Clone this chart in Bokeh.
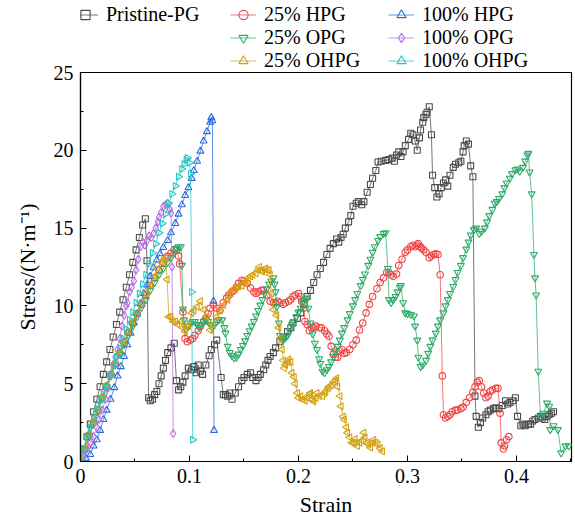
import math
from bokeh.plotting import figure
from bokeh.layouts import column
from bokeh.models import Legend, LegendItem, FixedTicker, Range1d
from bokeh.embed import file_html
from bokeh.resources import INLINE

# ---------------- data ----------------
x_ticks = [0, 0.1, 0.2, 0.3, 0.4]
x_tick_labels = ["0", "0.1", "0.2", "0.3", "0.4"]
x_minor = [0.05, 0.15, 0.25, 0.35, 0.45]
y_ticks = [0, 5, 10, 15, 20, 25]
y_tick_labels = ["0", "5", "10", "15", "20", "25"]
y_minor = [2.5, 7.5, 12.5, 17.5, 22.5]

series_names = ["Pristine-PG", "25% HPG", "100% HPG", "25% OPG", "100% OPG", "25% OHPG", "100% OHPG"]

pristine_strain = [0, 0.003, 0.006, 0.009, 0.012, 0.015, 0.018, 0.021, 0.024, 0.027, 0.030, 0.033, 0.036, 0.039, 0.042, 0.045, 0.048, 0.051, 0.054, 0.057, 0.0595,
                   0.061, 0.0625, 0.064, 0.066, 0.068, 0.070, 0.072, 0.074, 0.076, 0.078, 0.080, 0.083, 0.086, 0.088, 0.090, 0.092, 0.094, 0.096, 0.099, 0.102,
                   0.104, 0.106, 0.108, 0.110, 0.112, 0.115, 0.118, 0.120, 0.123, 0.125, 0.129, 0.131, 0.133, 0.135, 0.137, 0.139, 0.142, 0.145, 0.148, 0.150,
                   0.153, 0.156, 0.158, 0.161, 0.163, 0.165, 0.168, 0.170, 0.172, 0.174, 0.177, 0.179, 0.183, 0.186, 0.190, 0.193, 0.195, 0.199, 0.202, 0.205,
                   0.208, 0.211, 0.214, 0.217, 0.220, 0.223, 0.226, 0.229, 0.232, 0.235, 0.237, 0.239, 0.241, 0.243, 0.246, 0.248, 0.250, 0.253, 0.255, 0.258,
                   0.260, 0.263, 0.266, 0.268, 0.271, 0.273, 0.276, 0.280, 0.283, 0.286, 0.288, 0.290, 0.292, 0.294, 0.296, 0.298, 0.301, 0.303, 0.305, 0.307,
                   0.309, 0.311, 0.312, 0.314, 0.315, 0.317, 0.318, 0.320, 0.322, 0.323, 0.325, 0.327, 0.329, 0.331, 0.333, 0.335, 0.337, 0.339, 0.342, 0.344,
                   0.347, 0.349, 0.351, 0.352, 0.354, 0.356, 0.358, 0.360, 0.362, 0.363, 0.365, 0.367, 0.369, 0.372, 0.374, 0.376, 0.379, 0.381, 0.384, 0.387,
                   0.390, 0.392, 0.394, 0.397, 0.399, 0.401, 0.404, 0.406, 0.408, 0.411, 0.413, 0.415, 0.417, 0.420, 0.422, 0.424, 0.426, 0.428, 0.430, 0.432, 0.434]
pristine_stress = [0, 0.8, 1.6, 2.4, 3.2, 4.0, 4.8, 5.6, 6.4, 7.2, 8.0, 8.8, 9.6, 10.4, 11.2, 12.0, 12.8, 13.6, 14.4, 15.2, 15.6,
                   12.9, 4.1, 3.9, 4.0, 4.3, 4.5, 5.0, 5.5, 6.0, 6.5, 7.0, 7.3, 7.6, 5.2, 4.6, 4.8, 5.1, 5.5, 6.0, 5.9,
                   6.1, 5.7, 6.2, 5.8, 5.6, 6.2, 6.8, 7.2, 7.5, 7.8, 5.4, 4.3, 4.3, 4.2, 4.4, 4.0, 4.4, 4.8, 5.2, 5.4,
                   5.6, 5.7, 5.4, 5.2, 5.4, 5.6, 5.9, 6.2, 6.5, 6.75, 7.0, 7.3, 7.7, 8.0, 8.35, 8.6, 8.9, 9.2, 9.55, 10.1,
                   10.6, 11.0, 11.5, 12.0, 12.4, 12.8, 13.3, 13.7, 14.0, 14.3, 14.1, 14.4, 14.6, 15.0, 15.4, 15.8, 16.4, 16.6, 16.7, 16.5,
                   16.7, 17.3, 17.8, 18.2, 18.7, 19.25, 19.3, 19.35, 19.4, 19.5, 19.3, 19.7, 19.9, 19.6, 19.9, 20.3, 20.7, 21.1, 21.0, 20.6,
                   20.0, 20.8, 21.3, 21.8, 22.1, 22.3, 22.45, 22.8, 21.0, 18.4, 17.6, 17.0, 17.2, 17.6, 17.9, 18.1, 17.7, 18.4, 18.9, 19.1,
                   19.2, 19.3, 19.9, 20.3, 20.6, 20.4, 19.0, 18.3, 4.2, 2.9, 2.2, 2.5, 2.8, 3.0, 3.2, 3.3, 3.4, 3.45, 3.4, 3.6,
                   3.9, 3.7, 3.8, 3.9, 4.1, 2.9, 2.3, 2.4, 2.3, 2.4, 2.4, 2.6, 2.7, 2.8, 2.9, 2.8, 2.7, 2.9, 3.0, 3.1, 3.2]

hpg25_strain = [0, 0.004, 0.008, 0.012, 0.016, 0.020, 0.024, 0.028, 0.032, 0.036, 0.040, 0.044, 0.048, 0.052, 0.056, 0.060, 0.064, 0.068, 0.072, 0.076,
                0.080, 0.083, 0.086, 0.088, 0.090, 0.091, 0.094, 0.096, 0.098, 0.101, 0.103, 0.105, 0.108, 0.110, 0.113, 0.115, 0.117, 0.119, 0.122, 0.125,
                0.128, 0.131, 0.134, 0.136, 0.139, 0.141, 0.143, 0.145, 0.148, 0.150, 0.153, 0.156, 0.159, 0.161, 0.163, 0.166, 0.168, 0.171, 0.174, 0.177,
                0.179, 0.181, 0.183, 0.186, 0.188, 0.191, 0.193, 0.195, 0.197, 0.200, 0.202, 0.203, 0.205, 0.206, 0.208, 0.210, 0.212, 0.214, 0.216, 0.219,
                0.221, 0.224, 0.226, 0.228, 0.230, 0.232, 0.234, 0.236, 0.238, 0.240, 0.242, 0.244, 0.247, 0.250, 0.253, 0.256, 0.259, 0.262, 0.265, 0.268,
                0.272, 0.275, 0.278, 0.281, 0.283, 0.285, 0.287, 0.290, 0.292, 0.295, 0.298, 0.300, 0.303, 0.305, 0.307, 0.309, 0.310, 0.312, 0.313, 0.315,
                0.317, 0.320, 0.322, 0.324, 0.326, 0.328, 0.330, 0.332, 0.333, 0.335, 0.337, 0.339, 0.341, 0.344, 0.346, 0.349, 0.351, 0.354, 0.357, 0.360,
                0.362, 0.364, 0.366, 0.368, 0.370, 0.372, 0.374, 0.376, 0.378, 0.381, 0.383, 0.385, 0.386, 0.388, 0.389, 0.391, 0.393]
hpg25_stress = [0, 0.8, 1.7, 2.5, 3.3, 4.1, 4.8, 5.6, 6.3, 7.0, 7.7, 8.3, 8.9, 9.5, 10.1, 10.7, 11.3, 11.8, 12.3, 12.8,
                13.2, 13.4, 13.6, 13.6, 13.2, 12.7, 9.6, 7.9, 7.7, 7.8, 7.9, 8.1, 8.4, 8.7, 9.0, 9.2, 9.5, 9.85, 10.05, 9.85,
                9.7, 10.2, 10.5, 10.7, 10.9, 11.0, 11.2, 11.45, 11.65, 11.6, 11.45, 11.15, 10.9, 10.8, 10.9, 11.0, 11.0, 10.7, 10.3, 10.2,
                10.2, 10.3, 10.2, 10.1, 10.2, 10.3, 10.4, 10.6, 10.7, 10.8, 10.6, 10.3, 9.85, 9.0, 8.8, 8.4, 8.6, 8.6, 8.7, 8.6,
                8.6, 8.4, 8.2, 8.05, 7.4, 6.9, 6.7, 6.7, 7.1, 7.2, 6.95, 7.0, 7.2, 7.5, 7.8, 8.45, 8.9, 9.55, 10.1, 10.6,
                11.1, 11.5, 11.8, 12.15, 12.15, 12.0, 11.9, 12.05, 12.6, 13.0, 13.45, 13.6, 13.8, 13.9, 13.8, 13.9, 14.0, 13.8, 13.7, 13.6,
                13.45, 13.1, 13.2, 13.3, 13.35, 13.3, 12.0, 5.5, 3.0, 2.8, 2.9, 3.0, 3.2, 3.3, 3.3, 3.4, 3.5, 3.8, 4.1, 4.45,
                4.8, 5.1, 5.2, 4.8, 4.4, 4.1, 4.2, 4.5, 4.6, 4.7, 4.7, 3.1, 1.2, 0.8, 1.0, 1.4, 1.6]

hpg100_strain = [0, 0.005, 0.009, 0.012, 0.015, 0.018, 0.021, 0.024, 0.0275, 0.031, 0.034, 0.037, 0.040, 0.043, 0.046, 0.049, 0.052, 0.055, 0.058, 0.061,
                 0.064, 0.067, 0.070, 0.073, 0.076, 0.080, 0.083, 0.087, 0.090, 0.093, 0.096, 0.099, 0.102, 0.104, 0.107, 0.110, 0.113, 0.116, 0.119, 0.120,
                 0.121, 0.122, 0.1225]
hpg100_stress = [0, 0.2, 0.45, 1.0, 1.4, 2.0, 2.7, 3.3, 4.0, 4.75, 5.5, 6.1, 6.75, 7.5, 8.25, 8.9, 9.5, 10.15, 10.8, 11.35,
                 11.9, 12.45, 12.95, 13.35, 13.75, 14.2, 14.7, 15.3, 15.9, 16.5, 17.1, 17.6, 18.2, 18.7, 19.3, 19.95, 20.6, 21.2, 21.8, 22.1,
                 21.9, 10.3, 2.0]

opg25_strain = [0, 0.004, 0.008, 0.012, 0.016, 0.020, 0.024, 0.028, 0.032, 0.036, 0.040, 0.044, 0.048, 0.052, 0.056, 0.060, 0.064, 0.068, 0.072, 0.076,
                0.080, 0.083, 0.086, 0.088, 0.090, 0.092, 0.093, 0.094, 0.095, 0.097, 0.099, 0.101, 0.103, 0.105, 0.107, 0.109, 0.111, 0.113, 0.115, 0.117,
                0.119, 0.121, 0.123, 0.125, 0.127, 0.130, 0.132, 0.133, 0.135, 0.137, 0.139, 0.141, 0.143, 0.145, 0.147, 0.149, 0.151, 0.153, 0.155, 0.157,
                0.159, 0.161, 0.163, 0.165, 0.167, 0.169, 0.171, 0.173, 0.175, 0.177, 0.178, 0.179, 0.180, 0.182, 0.183, 0.185, 0.186, 0.188, 0.190, 0.192,
                0.194, 0.196, 0.198, 0.200, 0.202, 0.204, 0.206, 0.208, 0.209, 0.211, 0.213, 0.215, 0.217, 0.219, 0.220, 0.222, 0.224, 0.226, 0.228, 0.230,
                0.232, 0.234, 0.236, 0.238, 0.240, 0.242, 0.245, 0.247, 0.250, 0.252, 0.254, 0.257, 0.259, 0.261, 0.264, 0.266, 0.268, 0.270, 0.273, 0.275,
                0.278, 0.280, 0.282, 0.283, 0.285, 0.287, 0.289, 0.291, 0.293, 0.294, 0.296, 0.298, 0.300, 0.303, 0.306, 0.307, 0.309, 0.310, 0.312, 0.314,
                0.317, 0.319, 0.321, 0.323, 0.326, 0.328, 0.330, 0.333, 0.335, 0.337, 0.339, 0.342, 0.344, 0.346, 0.349, 0.351, 0.354, 0.356, 0.358, 0.361,
                0.363, 0.366, 0.368, 0.371, 0.373, 0.375, 0.378, 0.380, 0.382, 0.384, 0.387, 0.389, 0.391, 0.394, 0.396, 0.399, 0.401, 0.403, 0.406, 0.408,
                0.410, 0.411, 0.412, 0.414, 0.416, 0.417, 0.418, 0.420, 0.422, 0.425, 0.428, 0.430, 0.431, 0.434, 0.438, 0.441, 0.445, 0.448]
opg25_stress = [0, 0.75, 1.6, 2.4, 3.2, 4.0, 4.8, 5.5, 6.2, 6.9, 7.5, 8.1, 8.7, 9.3, 9.9, 10.4, 11.0, 11.5, 12.0, 12.4,
                12.8, 13.1, 13.4, 13.7, 13.8, 13.8, 12.6, 9.8, 9.1, 8.5, 8.7, 8.9, 9.0, 9.0, 8.8, 8.6, 8.8, 9.0, 9.1, 9.0,
                8.8, 8.6, 8.8, 9.0, 9.1, 9.1, 8.6, 8.25, 7.4, 7.0, 6.8, 6.65, 6.7, 6.9, 7.2, 7.45, 7.75, 8.1, 8.4, 8.7,
                9.0, 9.35, 9.7, 10.05, 10.4, 10.8, 11.1, 11.4, 11.6, 11.8, 11.4, 10.9, 9.95, 8.9, 8.1, 7.9, 7.8, 7.95, 8.1, 8.4,
                8.8, 9.0, 9.3, 9.6, 9.85, 10.2, 10.45, 10.5, 9.85, 8.9, 8.2, 7.6, 7.2, 6.6, 6.3, 5.8, 5.7, 5.9, 6.1, 6.4,
                6.75, 7.1, 7.4, 7.8, 8.25, 8.6, 9.1, 9.5, 10.0, 10.4, 10.8, 11.3, 11.7, 12.05, 12.6, 13.0, 13.45, 13.8, 14.2, 14.45,
                14.65, 14.7, 12.4, 10.4, 10.2, 10.4, 10.6, 10.9, 11.2, 11.3, 10.2, 9.55, 9.5, 9.45, 9.35, 8.7, 7.8, 6.7, 6.1, 6.2,
                6.5, 6.95, 7.4, 7.8, 8.25, 8.7, 9.1, 9.55, 10.0, 10.4, 10.8, 11.25, 11.7, 12.15, 12.6, 13.1, 13.65, 14.1, 14.55, 14.9,
                15.0, 14.65, 14.8, 15.0, 15.4, 15.8, 16.2, 16.6, 16.7, 16.9, 17.2, 17.6, 17.9, 18.2, 18.5, 18.75, 18.8, 18.65, 18.9, 19.3,
                19.7, 19.8, 18.6, 17.2, 13.3, 11.8, 10.7, 5.8, 2.9, 3.1, 3.75, 3.55, 2.05, 2.3, 2.05, 0.55, 1.0, 1.0]

opg100_strain = [0, 0.003, 0.006, 0.009, 0.012, 0.015, 0.017, 0.020, 0.023, 0.025, 0.0275, 0.030, 0.032, 0.034, 0.036, 0.038, 0.040, 0.042, 0.043, 0.045,
                 0.047, 0.049, 0.051, 0.053, 0.055, 0.057, 0.059, 0.061, 0.063, 0.065, 0.067, 0.069, 0.071, 0.072, 0.074, 0.076, 0.078, 0.080, 0.082, 0.083,
                 0.084, 0.085]
opg100_stress = [0, 0.4, 0.8, 1.2, 1.6, 2.2, 2.7, 3.3, 4.0, 4.7, 5.5, 6.2, 6.7, 7.2, 7.9, 8.7, 9.4, 10.0, 10.2, 10.9,
                 11.2, 11.6, 12.3, 13.0, 13.8, 14.1, 13.9, 14.2, 14.5, 14.4, 14.65, 15.0, 15.4, 15.7, 16.0, 16.4, 16.5, 16.6, 16.2, 15.95,
                 12.5, 1.8]

ohpg25_strain = [0, 0.004, 0.008, 0.012, 0.016, 0.020, 0.024, 0.028, 0.032, 0.036, 0.040, 0.044, 0.048, 0.052, 0.056, 0.060, 0.064, 0.068, 0.071, 0.074,
                 0.076, 0.078, 0.0795, 0.081, 0.083, 0.085, 0.087, 0.089, 0.092, 0.094, 0.096, 0.099, 0.102, 0.104, 0.107, 0.110, 0.113, 0.116, 0.119, 0.122,
                 0.125, 0.128, 0.131, 0.135, 0.138, 0.141, 0.143, 0.145, 0.148, 0.150, 0.152, 0.154, 0.156, 0.158, 0.161, 0.163, 0.164, 0.166, 0.167, 0.169,
                 0.170, 0.172, 0.173, 0.174, 0.175, 0.177, 0.180, 0.182, 0.183, 0.185, 0.186, 0.187, 0.188, 0.190, 0.191, 0.193, 0.194, 0.196, 0.197, 0.199,
                 0.200, 0.202, 0.204, 0.206, 0.208, 0.210, 0.211, 0.213, 0.214, 0.216, 0.217, 0.219, 0.222, 0.224, 0.225, 0.227, 0.228, 0.230, 0.232, 0.234,
                 0.235, 0.236, 0.238, 0.239, 0.241, 0.242, 0.244, 0.245, 0.247, 0.249, 0.251, 0.252, 0.254, 0.256, 0.258, 0.260, 0.261, 0.263, 0.264, 0.266,
                 0.268, 0.269, 0.271, 0.273, 0.275, 0.277]
ohpg25_stress = [0, 0.9, 1.8, 2.6, 3.4, 4.2, 4.95, 5.65, 6.35, 7.05, 7.7, 8.35, 9.0, 9.6, 10.2, 10.8, 11.4, 11.9, 12.4, 12.8,
                 12.95, 13.1, 11.7, 9.3, 9.3, 9.0, 9.0, 8.8, 9.0, 8.6, 8.35, 8.7, 9.55, 9.7, 9.95, 10.3, 9.75, 9.3, 8.45, 8.8,
                 9.3, 9.75, 10.05, 10.4, 10.8, 11.1, 11.2, 11.25, 11.3, 11.45, 11.6, 11.8, 11.9, 12.0, 12.1, 12.3, 12.5, 12.3, 12.2, 12.35,
                 12.4, 12.3, 12.3, 12.0, 10.8, 9.75, 9.4, 8.6, 7.9, 7.2, 6.5, 6.0, 6.2, 6.4, 6.55, 6.4, 5.7, 5.45, 5.0, 4.4,
                 4.1, 4.2, 4.0, 3.9, 4.1, 4.3, 4.4, 4.0, 3.85, 4.1, 4.4, 4.2, 4.2, 4.4, 4.5, 4.7, 4.8, 4.9, 5.1, 5.2,
                 5.35, 4.8, 4.2, 3.55, 2.9, 2.7, 2.2, 1.85, 1.55, 1.2, 1.2, 1.45, 1.0, 1.2, 1.35, 1.85, 1.55, 1.2, 1.1, 0.9,
                 1.2, 1.4, 1.2, 1.1, 0.85, 0.66]

ohpg100_strain = [0, 0.003, 0.006, 0.009, 0.012, 0.015, 0.018, 0.021, 0.024, 0.027, 0.030, 0.033, 0.036, 0.039, 0.042, 0.045, 0.048, 0.051, 0.054, 0.057,
                  0.060, 0.063, 0.066, 0.069, 0.072, 0.075, 0.078, 0.081, 0.084, 0.087, 0.090, 0.093, 0.095, 0.097, 0.098, 0.100, 0.101, 0.102, 0.103]
ohpg100_stress = [0, 0.8, 1.6, 2.2, 2.8, 3.4, 3.9, 4.3, 4.8, 5.5, 6.1, 6.7, 7.3, 7.9, 8.5, 9.1, 9.6, 10.2, 10.8, 11.4,
                  12.0, 12.7, 13.4, 14.0, 14.7, 15.3, 15.9, 16.6, 17.2, 17.7, 18.3, 18.8, 19.1, 19.4, 19.5, 19.2, 18.5, 10.9, 1.4]

# ---------------- styling ----------------
FONT = "Liberation Serif"
colors = ["#4a4a4a", "#f04545", "#2a6be0", "#2fab6a", "#b46ee0", "#d4a00c", "#1fc6c6"]
markers = ["square", "circle", "triangle", "inverted_triangle", "diamond", "triangle", "triangle"]
angles = [0, 0, 0, 0, 0, math.pi / 2, -math.pi / 2]
sizes = [6, 6.5, 7, 7, 8, 7, 7]

data = [(pristine_strain, pristine_stress), (hpg25_strain, hpg25_stress), (hpg100_strain, hpg100_stress),
        (opg25_strain, opg25_stress), (opg100_strain, opg100_stress), (ohpg25_strain, ohpg25_stress),
        (ohpg100_strain, ohpg100_stress)]

# ---------- main plot ----------
p = figure(width=575, height=457, x_range=Range1d(0, 0.4505), y_range=Range1d(0, 25),
           output_backend="svg", toolbar_location=None, title=None,
           min_border_left=80, min_border_right=4, min_border_top=10, min_border_bottom=57)
p.margin = (-16, 0, 0, 0)
p.border_fill_alpha = 0

p.xgrid.visible = False
p.ygrid.visible = False
p.outline_line_color = "black"
p.outline_line_width = 1.2
p.background_fill_color = "white"

for ax in (p.xaxis[0], p.yaxis[0]):
    ax.axis_line_width = 1.2
    ax.axis_line_color = "black"
    ax.major_tick_in = 6
    ax.major_tick_out = 0
    ax.minor_tick_in = 3
    ax.minor_tick_out = 0
    ax.major_tick_line_color = "black"
    ax.minor_tick_line_color = "black"
    ax.major_label_text_font = FONT
    ax.major_label_text_font_size = "20px"
    ax.major_label_text_color = "black"
    ax.axis_label_text_font = FONT
    ax.axis_label_text_font_size = "22px"
    ax.axis_label_text_font_style = "normal"
    ax.axis_label_text_color = "black"

p.xaxis.ticker = FixedTicker(ticks=x_ticks, minor_ticks=x_minor)
p.xaxis.major_label_overrides = dict(zip(x_ticks, x_tick_labels))
p.yaxis.ticker = FixedTicker(ticks=y_ticks, minor_ticks=y_minor)
p.yaxis.major_label_overrides = dict(zip(y_ticks, y_tick_labels))
p.xaxis.axis_label = "Strain"
p.yaxis.axis_label = "Stress/(N\u00b7m\u207b\u00b9)"
p.xaxis.major_label_standoff = 7
p.xaxis.axis_label_standoff = 6
p.yaxis.major_label_standoff = 7
p.yaxis.axis_label_standoff = 11

for (xs, ys), c, m, a, s in zip(data, colors, markers, angles, sizes):
    p.line(xs, ys, line_color=c, line_width=1, line_alpha=0.75)
    p.scatter(xs, ys, marker=m, angle=a, size=s, line_color=c, line_width=1.1, fill_alpha=0)

# ---------- legend strip on top (series drawn out of its view, used only as keys) ----------
top = figure(width=575, height=78, x_range=Range1d(0, 1), y_range=Range1d(100, 101),
             output_backend="svg", toolbar_location=None, title=None,
             x_axis_location=None, y_axis_location=None, min_border=0)
top.xgrid.visible = False
top.ygrid.visible = False
top.outline_line_color = None

key_renderers = []
for (xs, ys), c, m, a, s in zip(data, colors, markers, angles, sizes):
    kl = top.line(xs, ys, line_color=c, line_width=1, line_alpha=0.75)
    ks = top.scatter(xs, ys, marker=m, angle=a, size=s, line_color=c, line_width=1.1, fill_alpha=0)
    key_renderers.append([kl, ks])
blank = top.line(pristine_strain, pristine_stress, line_alpha=0)

legend_order = [0, 1, 2, None, 3, 4, None, 5, 6]
items = []
for i in legend_order:
    if i is None:
        items.append(LegendItem(label=" ", renderers=[blank]))
    else:
        items.append(LegendItem(label=series_names[i], renderers=key_renderers[i]))

legend = Legend(items=items, location=(-8, 6), orientation="horizontal", ncols=3,
                background_fill_alpha=0, border_line_alpha=0, padding=0, margin=0,
                spacing=0, label_standoff=8, glyph_width=26, glyph_height=23,
                label_height=23, label_width=124, label_text_font=FONT,
                label_text_font_size="20px", label_text_color="black")
top.add_layout(legend)

layout = column(top, p, spacing=0)
open("out.html", "w").write(file_html(layout, INLINE))
